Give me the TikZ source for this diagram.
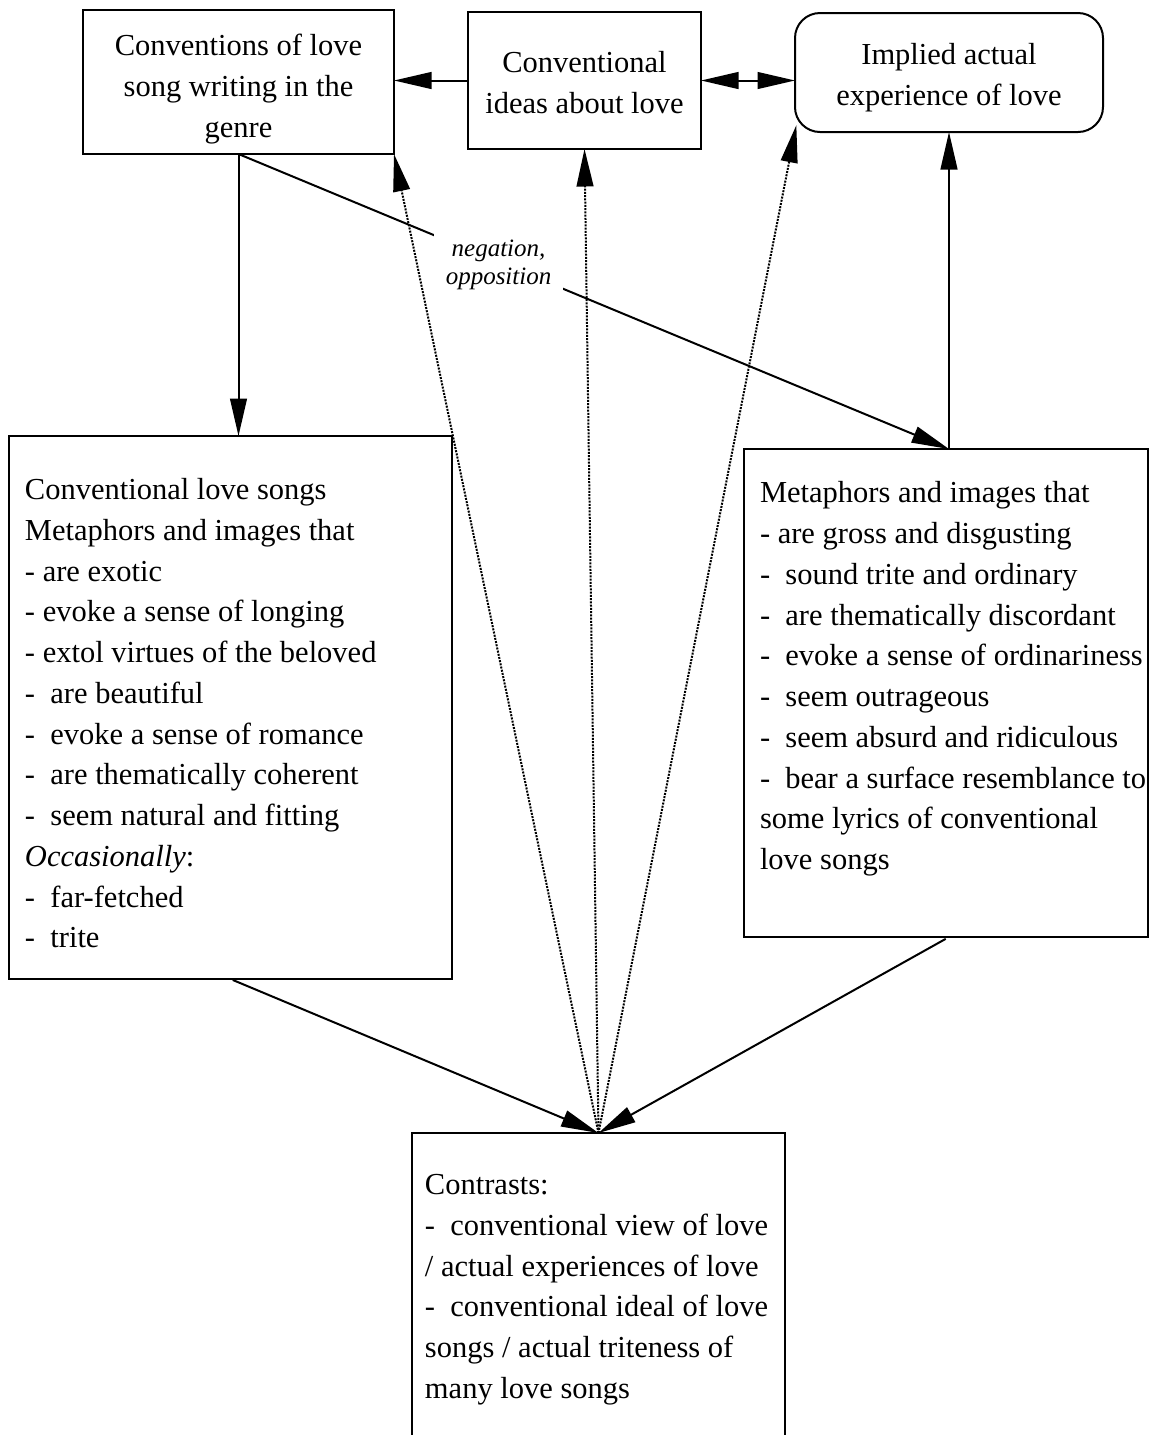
\documentclass[tikz,border=0pt]{standalone}
\usepackage{fontspec}
\setmainfont{Liberation Serif}
\usetikzlibrary{arrows.meta}
\newcommand{\padtop}[1]{\rule{0pt}{#1}}
\newcommand{\padbot}[1]{\rule[-#1]{0pt}{#1}}

\begin{document}
\begin{tikzpicture}[x=0.4pt,y=-0.4pt,
    box/.style={draw,line width=0.8pt,outer sep=0pt,font=\fontsize{12.2}{16.3}\selectfont},
    topbox/.style={box,align=center,inner sep=0pt},
    listbox/.style={box,align=left,inner ysep=0pt,execute at begin node={\spaceskip=0pt\xspaceskip=0pt}},
    arr/.style={line width=0.8pt,-{Triangle[length=15pt,width=6.7pt]}},
    dblarr/.style={line width=0.8pt,{Triangle[length=15pt,width=6.7pt]}-{Triangle[length=15pt,width=6.7pt]}},
    dotarr/.style={arr,dash pattern=on 0.8pt off 0.5pt},
    note/.style={fill=white,align=center,inner xsep=4.6pt,inner ysep=2pt,font=\fontsize{10}{11.2}\selectfont\itshape}]
     \useasboundingbox (0,0) rectangle (1151,1435);
     \node[topbox,minimum width=124.4pt,minimum height=57.6pt] (genre) at (238.5,82)
          {\padtop{14.3pt}Conventions of love\\song writing in the\\genre};
     \node[topbox,minimum width=93.2pt,minimum height=54.8pt] (ideas) at (584.5,80.5)
          {\padtop{10pt}Conventional\\ideas about love};
     \node[topbox,rounded corners=10pt,minimum width=123.2pt,minimum height=47.6pt] (actual) at (949,72.5)
          {\padtop{12.8pt}Implied actual\\experience of love};
     \node[listbox,text width=164.4pt,inner xsep=6.4pt,minimum height=217.2pt] (conv) at (230.5,707.5)
          {\padtop{13.1pt}Conventional love songs\\
           Metaphors and images that\\
           - are exotic\\
           - evoke a sense of longing\\
           - extol virtues of the beloved\\
           -~ are beautiful\\
           -~ evoke a sense of romance\\
           -~ are thematically coherent\\
           -~ seem natural and fitting\\
           \textit{Occasionally}:\\
           -~ far-fetched\\
           -~ trite};
     \node[listbox,text width=148.8pt,inner xsep=6.4pt,minimum height=195.2pt] (meta) at (946,693)
          {Metaphors and images that\\
           - are gross and disgusting\\
           -~ sound trite and ordinary\\
           -~ are thematically discordant\\
           \mbox{-~ evoke a sense of ordinariness}\\
           -~ seem outrageous\\
           -~ seem absurd and ridiculous\\
           \mbox{-~ bear a surface resemblance to}\\
           some lyrics of conventional\\
           love songs\padbot{13.8pt}};
     \node[listbox,text width=138.8pt,inner xsep=5.2pt,minimum height=125.3pt] (contrasts) at (598.5,1289.6)
          {Contrasts:\\
           \mbox{-~ conventional view of love}\\
           / actual experiences of love\\
           \mbox{-~ conventional ideal of love}\\
           songs / actual triteness of\\
           many love songs};
     \draw[arr] (ideas.west) -- (ideas.west -| genre.east);
     \draw[dblarr] (ideas.east) -- (ideas.east -| actual.west);
     \draw[arr] (genre.south) -- (genre.south |- conv.north);
     \draw[arr] (genre.south) -- node[note,pos=0.366] (neg) {\padtop{9pt}negation,\\opposition} (actual.south |- meta.north);
     \draw[arr] (actual.south |- meta.north) -- (actual.south);
     \draw[arr,shorten <=1pt] (conv.south) -- (contrasts.north);
     \draw[arr,shorten <=1.5pt] (actual.south |- meta.south) -- (contrasts.north);
     \draw[dotarr] (contrasts.north) -- (genre.south east);
     \draw[dotarr] (contrasts.north) -- (ideas.south);
     \draw[dotarr,shorten >=-2.8pt] (contrasts.north) -- (actual.south west);
    \end{tikzpicture}
\end{document}
